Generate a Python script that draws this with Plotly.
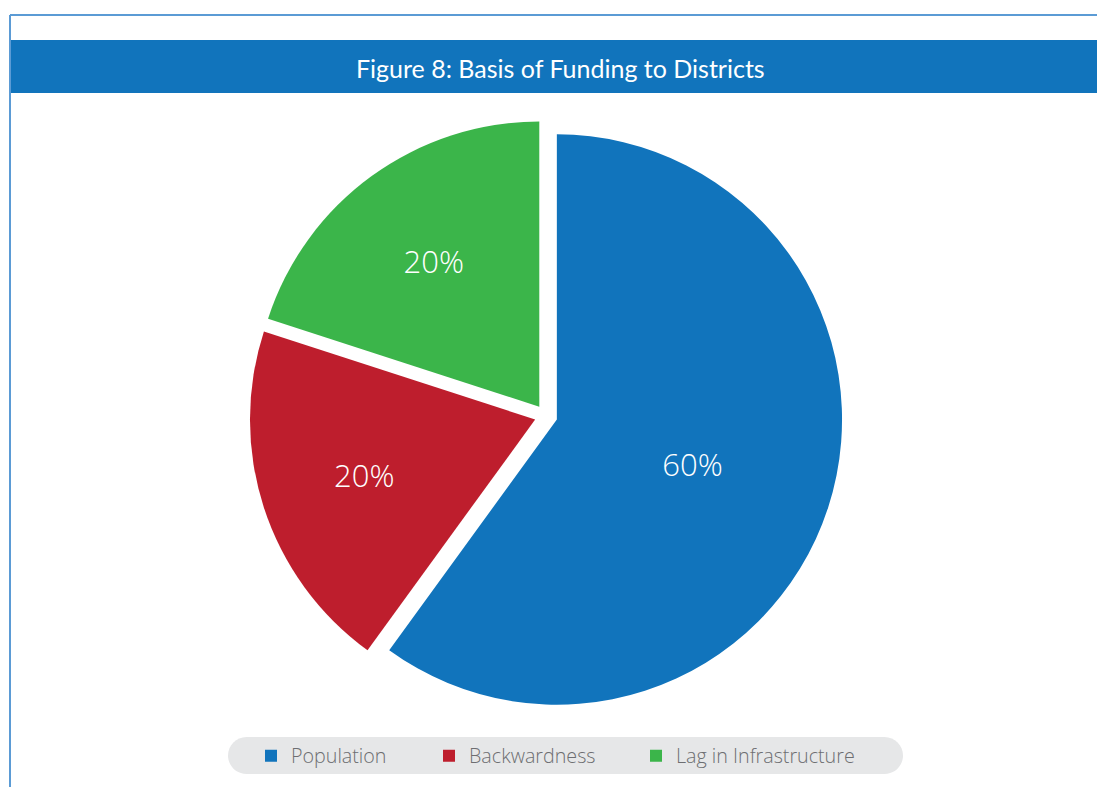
import plotly.graph_objects as go

# ---- data ----
categories = ["Population", "Backwardness", "Lag in Infrastructure"]
shares = [60, 20, 20]
colors = ["#1174bc", "#be1e2d", "#3bb54a"]
title_text = "Figure 8: Basis of Funding to Districts"

W, H = 1097, 787

def px_x(x):
    return x / W

def px_y(y):
    return 1 - y / H

fig = go.Figure()

fig.add_trace(go.Pie(
    labels=categories,
    values=shares,
    sort=False,
    direction="clockwise",
    rotation=0,
    pull=[0.04] * len(shares),
    marker=dict(colors=colors, line=dict(width=0)),
    textinfo="percent",
    texttemplate="%{percent:.0%}",
    textposition="inside",
    insidetextorientation="horizontal",
    textfont=dict(family="Open Sans", size=31, color="white", weight=300),
    showlegend=False,
    hoverinfo="label+percent",
    domain=dict(x=[px_x(249.4), px_x(842.6)], y=[px_y(712.6), px_y(119.4)]),
))

# legend entries (one per category), widths tuned to spacing
legend_widths = [133, 162, 180]
for name, col, lw in zip(categories, colors, legend_widths):
    fig.add_trace(go.Scatter(
        x=[None], y=[None], mode="markers", name=name,
        marker=dict(symbol="square", size=12, color=col, line=dict(width=0)),
        legendwidth=lw, showlegend=True, hoverinfo="skip",
    ))

# pill-shaped legend background
x0, x1, y0, y1 = 228, 903, 737, 774
r = (y1 - y0) / 2
k = 0.5523 * r
pts = [
    f"M {px_x(x0 + r)},{px_y(y0)}",
    f"L {px_x(x1 - r)},{px_y(y0)}",
    f"C {px_x(x1 - r + k)},{px_y(y0)} {px_x(x1)},{px_y(y0 + r - k)} {px_x(x1)},{px_y(y0 + r)}",
    f"C {px_x(x1)},{px_y(y0 + r + k)} {px_x(x1 - r + k)},{px_y(y1)} {px_x(x1 - r)},{px_y(y1)}",
    f"L {px_x(x0 + r)},{px_y(y1)}",
    f"C {px_x(x0 + r - k)},{px_y(y1)} {px_x(x0)},{px_y(y0 + r + k)} {px_x(x0)},{px_y(y0 + r)}",
    f"C {px_x(x0)},{px_y(y0 + r - k)} {px_x(x0 + r - k)},{px_y(y0)} {px_x(x0 + r)},{px_y(y0)}",
    "Z",
]
shapes = [
    dict(type="path", xref="paper", yref="paper", path=" ".join(pts),
         fillcolor="#e6e7e8", line=dict(width=0), layer="below"),
    # title bar
    dict(type="rect", xref="paper", yref="paper",
         x0=px_x(10), x1=1, y0=px_y(93), y1=px_y(40),
         fillcolor="#1174bc", line=dict(width=0), layer="below"),
    # frame lines
    dict(type="line", xref="paper", yref="paper",
         x0=px_x(10), x1=1, y0=px_y(15), y1=px_y(15),
         line=dict(color="#5b9bd5", width=2)),
    dict(type="line", xref="paper", yref="paper",
         x0=px_x(10), x1=px_x(10), y0=px_y(15), y1=0,
         line=dict(color="#5b9bd5", width=2)),
]

fig.update_layout(
    width=W, height=H,
    margin=dict(l=0, r=0, t=0, b=0),
    paper_bgcolor="white",
    plot_bgcolor="white",
    xaxis=dict(visible=False),
    yaxis=dict(visible=False),
    shapes=shapes,
    showlegend=True,
    legend=dict(
        orientation="h",
        x=px_x(251), xanchor="left",
        y=px_y(756), yanchor="middle",
        bgcolor="rgba(0,0,0,0)",
        borderwidth=0,
        font=dict(family="Open Sans", size=19.7, color="#6d6e71", weight=300),
        itemclick=False, itemdoubleclick=False,
    ),
    annotations=[dict(
        text=title_text, xref="paper", yref="paper",
        x=px_x(560), y=px_y(68), xanchor="center", yanchor="middle",
        showarrow=False,
        font=dict(family="Lato", size=25, color="white"),
    )],
)

fig.write_html("out.html")
